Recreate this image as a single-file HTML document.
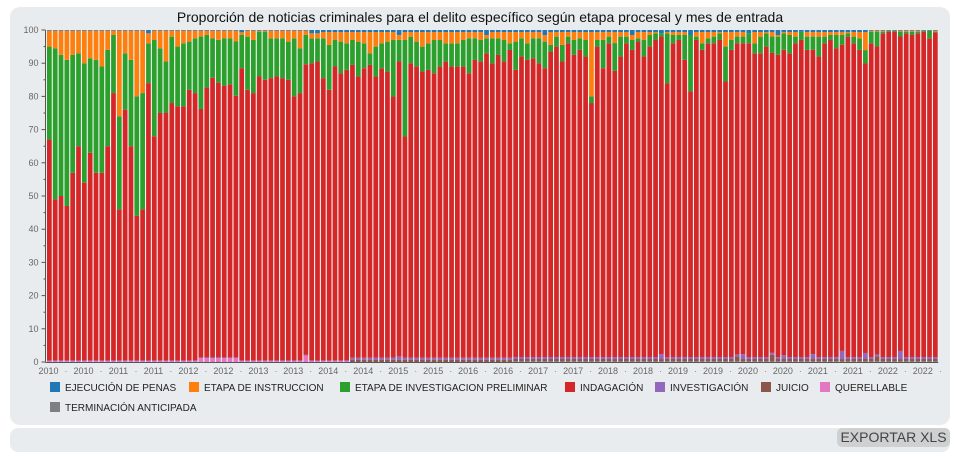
<!DOCTYPE html>
<html><head><meta charset="utf-8">
<style>
html,body{margin:0;padding:0;background:#fff;width:971px;height:465px;overflow:hidden;font-family:"Liberation Sans",sans-serif;}
.card{position:absolute;left:10px;top:7px;width:940px;height:418px;background:#e9ecee;border-radius:10px;}
.bar2{position:absolute;left:10px;top:428px;width:940px;height:24px;background:#e9ecee;border-radius:8px;}
.btn{position:absolute;left:837px;top:428px;width:113px;height:19px;background:#cfd0d1;border-radius:5px;font-size:14px;color:#444;text-align:center;line-height:19px;}
svg{position:absolute;left:0;top:0;}
</style></head><body>
<div class="card"></div>
<div class="bar2"></div>
<div class="btn">EXPORTAR XLS</div>
<svg id="chart" width="971" height="465">
<text x="480" y="22" text-anchor="middle" font-size="14" fill="#111">Proporción de noticias criminales para el delito específico según etapa procesal y mes de entrada</text>
</svg>
<script>
const xTickLabels=["2010","2010","2011","2011","2012","2012","2013","2013","2014","2014","2015","2015","2016","2016","2017","2017","2018","2018","2019","2019","2020","2020","2021","2021","2022","2022"];
const yTicks=[0,10,20,30,40,50,60,70,80,90,100];
const seriesNames=["TERMINACIÓN ANTICIPADA","QUERELLABLE","JUICIO","INVESTIGACIÓN","INDAGACIÓN","ETAPA DE INVESTIGACION PRELIMINAR","ETAPA DE INSTRUCCION","EJECUCIÓN DE PENAS"];
const term=[0,0,0,0,0,0,0,0,0,0, 0,0,0,0,0,0,0,0,0,0, 0,0,0,0,0,0,0,0,0,0, 0,0,0,0,0,0,0,0,0,0, 0,0,0,0,0,0,0,0,0,0, 0,0,0,0,0,0,0,0,0,0, 0,0,0,0,0,0,0,0,0,0, 0,0,0,0,0,0,0,0,0,0,
0.2,0.2,0.2,0.2,0.2,0.2,0.2,0.2,0.2,0.2, 0.2,0.2,0.2,0.2,0.2,0.2,0.2,0.2,0.2,0.2, 0.2,0.2,0.2,0.2,0.2,0.2,0.2,0.2,0.2,0.2, 0.2,0.2,0.2,0.2,0.2,0.2,0.2,0.2,0.2,0.2, 0.2,0.2,0.2,0.2,0.2,0.2,0.2,0.2,0.2,0.2, 0.2,0.2,0.2,0.2,0.2,0.2,0.2,0.2,0.2,0.2, 0.2,0.2,0.2,0.2,0.2,0.2,0.2,0.2,0.2,0.2, 0.2,0.2,0.2];
const quer=[0.3,0.3,0.3,0.3,0.3,0.3,0.3,0.3,0.3,0.3, 0.3,0.3,0.3,0.3,0.3,0.3,0.3,0.3,0.3,0.3, 0.3,0.3,0.3,0.3,0.3,0.3,1.2,1.2,1.2,1.2, 1.2,1.2,1.2,0.3,0.3,0.3,0.3,0.3,0.3,0.3, 0.3,0.3,0.3,0.3,2,0.3,0.3,0.3,0.3,0.3, 0.3,0.3,
0,0,0,0,0,0,0,0,0,0, 0,0,0,0,0,0,0,0,0,0, 0,0,0,0,0,0,0,0,0,0, 0,0,0,0,0,0,0,0,0,0, 0,0,0,0,0,0,0,0,0,0, 0,0,0,0,0,0,0,0,0,0, 0,0,0,0,0,0,0,0,0,0, 0,0,0,0,0,0,0,0,0,0, 0,0,0,0,0,0,0,0,0,0, 0,0,0,0,0,0,0,0,0,0, 0];
const juicio=[0,0,0,0,0,0,0,0,0,0, 0,0,0,0,0,0,0,0,0,0, 0,0,0,0,0,0,0,0,0,0, 0,0,0,0,0,0,0,0,0,0, 0,0,0,0,0,0,0,0,0,0, 0,0,
0.7,0.7,0.7,0.7,0.7,0.7,0.7,0.7, 0.7,0.7,0.7,0.7,0.7,0.7,0.7,0.7,0.7,0.7, 0.7,0.7,0.7,0.7,0.7,0.7,0.7,0.7,0.7,0.7, 0.7,0.7,0.7,0.7,0.7,0.7,0.7,0.7,0.7,0.7, 0.7,0.7,0.7,0.7,0.7,0.7,0.7,0.7,0.7,0.7, 0.7,0.7,0.7,0.7,0.7,0.7,0.7,0.7,0.7,0.7, 0.7,0.7,0.7,0.7,0.7,0.7,0.7,0.7,1.5,0.7, 0.7,0.7,0.7,0.7,2,0.7,0.7,0.7,0.7,0.7, 0.7,0.7,0.7,0.7,0.7,0.7,0.7,0.7,0.7,0.7, 0.7,0.7,1.5,0.7,0.7,0.7,0.7,0.7,0.7,0.7, 0.7,0.7,0.7];
const investig=[0.2,0.2,0.2,0.2,0.2,0.2,0.2,0.2,0.2,0.2, 0.2,0.2,0.2,0.2,0.2,0.2,0.2,0.2,0.2,0.2, 0.2,0.2,0.2,0.2,0.2,0.2,0.2,0.2,0.2,0.2, 0.2,0.2,0.2,0.2,0.2,0.2,0.2,0.2,0.2,0.2, 0.2,0.2,0.2,0.2,0.2,0.2,0.2,0.2,0.2,0.2, 0.2,0.2,
0.6,0.6,0.6,0.6,0.6,0.6,0.6,0.6, 1,0.6,0.6,0.6,0.6,0.6,0.6,0.6,0.6,0.6, 0.6,0.6,0.6,0.6,0.6,0.6,0.6,0.6,0.6,0.6, 0.6,0.6,0.6,0.6,0.6,0.6,0.6,0.6,0.6,0.6, 0.6,0.6,0.6,0.6,0.6,0.6,0.6,0.6,0.6,0.6, 0.6,0.6,0.6,0.6,0.6,1.5,0.6,0.6,0.6,0.6, 0.6,0.6,0.6,0.6,0.6,0.6,0.6,0.6,0.6,1.5, 0.6,0.6,0.6,0.6,0.6,0.6,1.2,0.6,0.6,0.6, 0.6,1.5,0.6,0.6,0.6,0.6,2.5,0.6,0.6,0.6, 1.8,0.6,0.6,0.6,0.6,0.6,2.5,0.6,0.6,0.6, 0.6,0.6,0.6,0.6,0.6,0.6,0.6,0.6,0.6,0.6, 1.5,0.6,0.6];
const indag=[66.5,48.5,49.5,46.5,56.5,64.5,53.5,62.5,56.5,56.5, 64.5,80.5,45.5,75.5,64.5,43.5,45.5,83.5,67.5,74.5, 74.5,77.5,76.5,76.5,81.5,80.5,75.5,82,85,83.5, 82.5,83,79.5,88,81.5,80.5,85.5,84.5,85,85.5, 85,84.5,79.5,80.5,89,89.5,90,85,81.5,88.5, 86.5,87.5,
88,84.5,87,88,84.5,87,86,78.5, 89,66.5,88.5,87.5,86,86.5,85.5,87.5,89,87.5, 87.5,87.5,85.5,89.5,89,91.5,88.5,91,89,92.5, 86.5,90.5,89.5,90,88.5,87,92,93.5,89,94.5, 91,92.5,90.5,76.5,93.5,87,94.5,87.5,90.5,94.5, 92.5,95.5,90.5,93.5,95.5,96.5,82.5,94.5,95.5,89.5, 80,95.5,92.5,94.5,94.5,95.5,83,92.5,94.5,94.5, 94.5,91.5,91.5,93.5,91.5,91,92.5,91.5,94.5,95.5, 92.5,92.5,90.5,94.5,95.5,92,94,96.5,94.5,92.5, 86.5,94.5,93.5,97.5,98,98,96.5,97.5,97,97.5, 98,96,98];
const prelim=[28,45.5,42.5,44,35.5,28,36,28.5,34,32, 29,17.5,28,17,26,36,35,12,29,19.5, 15.5,20,18,19,14.5,16.5,22,16,12,13, 14.5,14,16.5,10,16,16,13.5,14.5,12,11.5, 12,11.5,17.5,13.5,9,7.5,7,12,13.5,8, 9.5,8,
7.5,10.5,7.5,3.5,9,7.5,9,17, 6.5,29,8,7.5,7.5,8,10,8,5.5,7, 7,8,10.5,6.5,6.5,4.5,7.5,5,6.5,2, 8.5,5.5,5,6,7.5,8,2,3,5,2, 4.5,3.5,5,2,2,8.5,2,8.5,6,2, 3,1,5,3.5,2,1,15,2.5,1.5,7.5, 17,1,2,1.5,2,2,10.5,3,2,2, 3,3,5,4,5,5.5,5,5.5,2,2.5, 4,4,6,2,1.5,4,3,1,2,3.5, 4,3.5,4.5,0.5,0.2,0.2,1.5,0.5,1,0.5, 0.2,2.2,0.2];
const instr=[4.8,5.3,7.3,8.8,7.3,6.8,9.8,8.3,8.8,10.8, 5.8,1.3,25.8,6.8,8.8,19.8,18.8,3,2.8,5.3, 9.3,1.8,4.8,3.8,3.3,2.3,1.8,1.3,2.3,2.8, 2.3,2.3,3.3,0.8,1.8,2.8,0.3,0.3,2.3,2.3, 2.3,3.3,2.3,5.3,1.3,1.5,1.5,1.9,3.9,2.4, 2.9,3.4,
2.4,2.9,3.4,6.4,4.4,3.4,2.9,2.4, 1.5,2.4,1.4,2.9,4.4,3.4,2.4,2.4,3.4,3.4, 3.4,2.4,1.9,1.9,2.4,1,1.9,1.9,2.4,3.4, 2.9,1.9,3.4,1.9,1.9,2,3.9,1.4,3.9,1.4, 2.4,1.9,2.4,19.4,2.4,2.4,1.4,3.4,1.4,1.4, 1.5,1.9,2.4,0.9,0.4,0,0.4,0.9,0.9,0.9, 0,1.4,3.4,1.9,1.4,0.4,4.4,2.4,1.4,1.4, 0,3.4,1.4,0.4,1.4,0.5,0.4,0.9,1.4,0, 1.4,1.4,1.4,1.4,0.9,0.9,0.9,0.4,1.4,1.9, 5.4,0.3,0.3,0.3,0.1,0.1,0.3,0.3,0.3,0.3, 0.1,0.1,0.3];
const ejec=[0.2,0.2,0.2,0.2,0.2,0.2,0.2,0.2,0.2,0.2, 0.2,0.2,0.2,0.2,0.2,0.2,0.2,1,0.2,0.2, 0.2,0.2,0.2,0.2,0.2,0.2,0.2,0.2,0.2,0.2, 0.2,0.2,0.2,0.7,0.2,0.2,0.2,0.2,0.2,0.2, 0.2,0.2,0.2,0.2,0.2,1,1,0.6,0.6,0.6, 0.6,0.6,
0.6,0.6,0.6,0.6,0.6,0.6,0.6,0.6, 1.5,0.6,0.6,0.6,0.6,0.6,0.6,0.6,0.6,0.6, 0.6,0.6,0.6,0.6,0.6,1.5,0.6,0.6,0.6,0.6, 0.6,0.6,0.6,0.6,0.6,1.5,0.6,0.6,0.6,0.6, 0.6,0.6,0.6,0.6,0.6,0.6,0.6,0.6,0.6,0.6, 1.5,0.6,0.6,0.6,0.6,1,0.6,0.6,0.6,0.6, 1.5,0.6,0.6,0.6,0.6,0.6,0.6,0.6,0.6,0.6, 1,0.6,0.6,0.6,0.6,1.5,0.6,0.6,0.6,0.5, 0.6,0.6,0.6,0.6,0.6,0.6,0.6,0.6,0.6,0.6, 0.6,0.2,0.2,0.2,0.2,0.2,0.2,0.2,0.2,0.2, 0.2,0.2,0.2];
const seriesColors=["#7f7f7f","#e377c2","#8c564b","#9467bd","#d62728","#2ca02c","#ff7f0e","#1f77b4"];
const seriesKeys=["term","quer","juicio","investig","indag","prelim","instr","ejec"];

const NS="http://www.w3.org/2000/svg";
const svg=document.getElementById("chart");
const X0=46.5,X1=938.3,Y0=362,Y1=30;
const series=[term,quer,juicio,investig,indag,prelim,instr,ejec];
const n=indag.length;
const bw=(X1-X0)/n;
function xScale(i){return X0+i*bw;}
function yScale(v){return Y0-(v/100)*(Y0-Y1);}
function mk(tag,attrs){const e=document.createElementNS(NS,tag);for(const k in attrs)e.setAttribute(k,attrs[k]);svg.appendChild(e);return e;}
// plot background
const bg=mk("rect",{x:X0,y:Y1,width:X1-X0,height:Y0-Y1,fill:"#f2f4f5"});


for(let i=0;i<n;i++){
  let tot=0;for(const s of series)tot+=s[i];
  let cum=0;
  for(let k=0;k<series.length;k++){
    const v=series[k][i]/tot*100;
    if(v<=0){continue;}
    const r=mk("rect",{x:xScale(i)+0.5,y:yScale(cum+v),width:bw-1.1,height:yScale(cum)-yScale(cum+v),fill:seriesColors[k]});
    
    
    cum+=v;
  }
}
// y axis
const ya=mk("line",{x1:X0-1,y1:Y1,x2:X0-1,y2:Y0,stroke:"#555","stroke-width":1});


for(let v=0;v<=100;v+=5){
  const t=mk("line",{x1:X0-(v%10===0?5:3),y1:yScale(v),x2:X0-1,y2:yScale(v),stroke:"#555","stroke-width":1});
  
  
}
for(const v of yTicks){
  const t=mk("text",{x:X0-8,y:yScale(v)+3,"text-anchor":"end","font-size":"9",fill:"#666"});
  t.textContent=String(v);
  
  
}
const xa=mk("line",{x1:X0-1,y1:Y0+0.5,x2:X1,y2:Y0+0.5,stroke:"#555","stroke-width":1});


for(let j=0;j<xTickLabels.length;j++){
  const xc=xScale(j*6)+2;
  const t=mk("text",{x:xc,y:Y0+12,"text-anchor":"middle","font-size":"9",fill:"#666"});
  t.textContent=xTickLabels[j];
  
  
  const d=mk("text",{x:xc+17.5,y:Y0+12,"text-anchor":"middle","font-size":"9",fill:"#888"});
  d.textContent="·";
  
  
}
// legend
const legend=[["EJECUCIÓN DE PENAS","#1f77b4",50,391],["ETAPA DE INSTRUCCION","#ff7f0e",189,391],["ETAPA DE INVESTIGACION PRELIMINAR","#2ca02c",340,391],["INDAGACIÓN","#d62728",565,391],["INVESTIGACIÓN","#9467bd",655,391],["JUICIO","#8c564b",761,391],["QUERELLABLE","#e377c2",820,391],["TERMINACIÓN ANTICIPADA","#7f7f7f",50,411]];
for(const [name,col,lx,ly] of legend){
  const g=document.createElementNS(NS,"g");svg.appendChild(g);
  
  
  const r=document.createElementNS(NS,"rect");
  r.setAttribute("x",lx);r.setAttribute("y",ly-9);r.setAttribute("width",10);r.setAttribute("height",10);r.setAttribute("fill",col);
  
  
  g.appendChild(r);
  const t=document.createElementNS(NS,"text");
  t.setAttribute("x",lx+15);t.setAttribute("y",ly);t.setAttribute("font-size","10");t.setAttribute("fill","#222");
  t.textContent=name;
  
  
  g.appendChild(t);
}
</script>
</body></html>
